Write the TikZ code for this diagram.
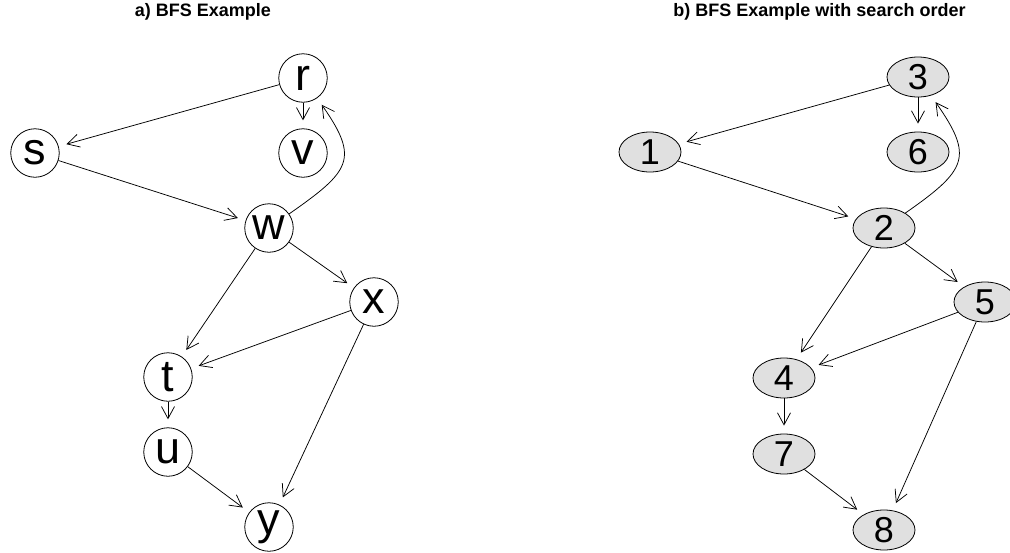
\documentclass[tikz,border=0pt]{standalone}
\usepackage{fontspec}
\setmainfont{Liberation Sans}
\usetikzlibrary{arrows.meta,shapes.geometric}
\definecolor{nodegray}{RGB}{224,224,224}
\tikzset{
  letternode/.style={circle,draw=black,line width=0.8pt,fill=white,minimum size=48.5pt,inner sep=0pt,font=\fontsize{45}{45}\selectfont},
  numnode/.style={ellipse,draw=black,line width=0.8pt,fill=nodegray,minimum width=62pt,minimum height=40pt,inner sep=0pt,font=\fontsize{36}{36}\selectfont},
  edge/.style={line width=0.75pt,-{Straight Barb[length=12pt,width=13pt,line width=0.75pt]},shorten >=8pt},
  titletext/.style={font=\fontsize{18}{18}\bfseries\selectfont}
}
\begin{document}
\begin{tikzpicture}[x=1pt,y=1pt]
\useasboundingbox (0,0) rectangle (1010,-552);
% titles
\node[titletext] (ta) at (203,-12) {a) BFS Example};
\node[titletext] (tb) at (819.5,-12) {b) BFS Example with search order};
% left graph
\node[letternode] (r) at (303,-78) {r};
\node[letternode] (v) at (303,-153) {v};
\node[letternode] (s) at (35,-153) {s};
\node[letternode] (w) at (269,-228) {w};
\node[letternode] (x) at (374,-302) {x};
\node[letternode] (t) at (168,-377) {t};
\node[letternode] (u) at (168,-452) {u};
\node[letternode] (y) at (269,-527) {y};
\draw[edge] (r) -- (s);
\draw[edge] (r) -- (v);
\draw[edge] (s) -- (w);
\draw[edge] (w) to[out=35,in=-55,looseness=1.6] (r);
\draw[edge] (w) -- (t);
\draw[edge] (w) -- (x);
\draw[edge] (x) -- (t);
\draw[edge] (x) -- (y);
\draw[edge] (t) -- (u);
\draw[edge] (u) -- (y);
% right graph
\node[numnode] (n3) at (918,-77) {3};
\node[numnode] (n6) at (918,-152) {6};
\node[numnode] (n1) at (650,-152) {1};
\node[numnode] (n2) at (884,-228) {2};
\node[numnode] (n5) at (985,-302) {5};
\node[numnode] (n4) at (784,-378) {4};
\node[numnode] (n7) at (784,-454) {7};
\node[numnode] (n8) at (884,-530) {8};
\draw[edge] (n3) -- (n1);
\draw[edge] (n3) -- (n6);
\draw[edge] (n1) -- (n2);
\draw[edge] (n2) to[out=35,in=-55,looseness=1.6] (n3);
\draw[edge] (n2) -- (n4);
\draw[edge] (n2) -- (n5);
\draw[edge] (n5) -- (n4);
\draw[edge] (n5) -- (n8);
\draw[edge] (n4) -- (n7);
\draw[edge] (n7) -- (n8);
\end{tikzpicture}
\end{document}
